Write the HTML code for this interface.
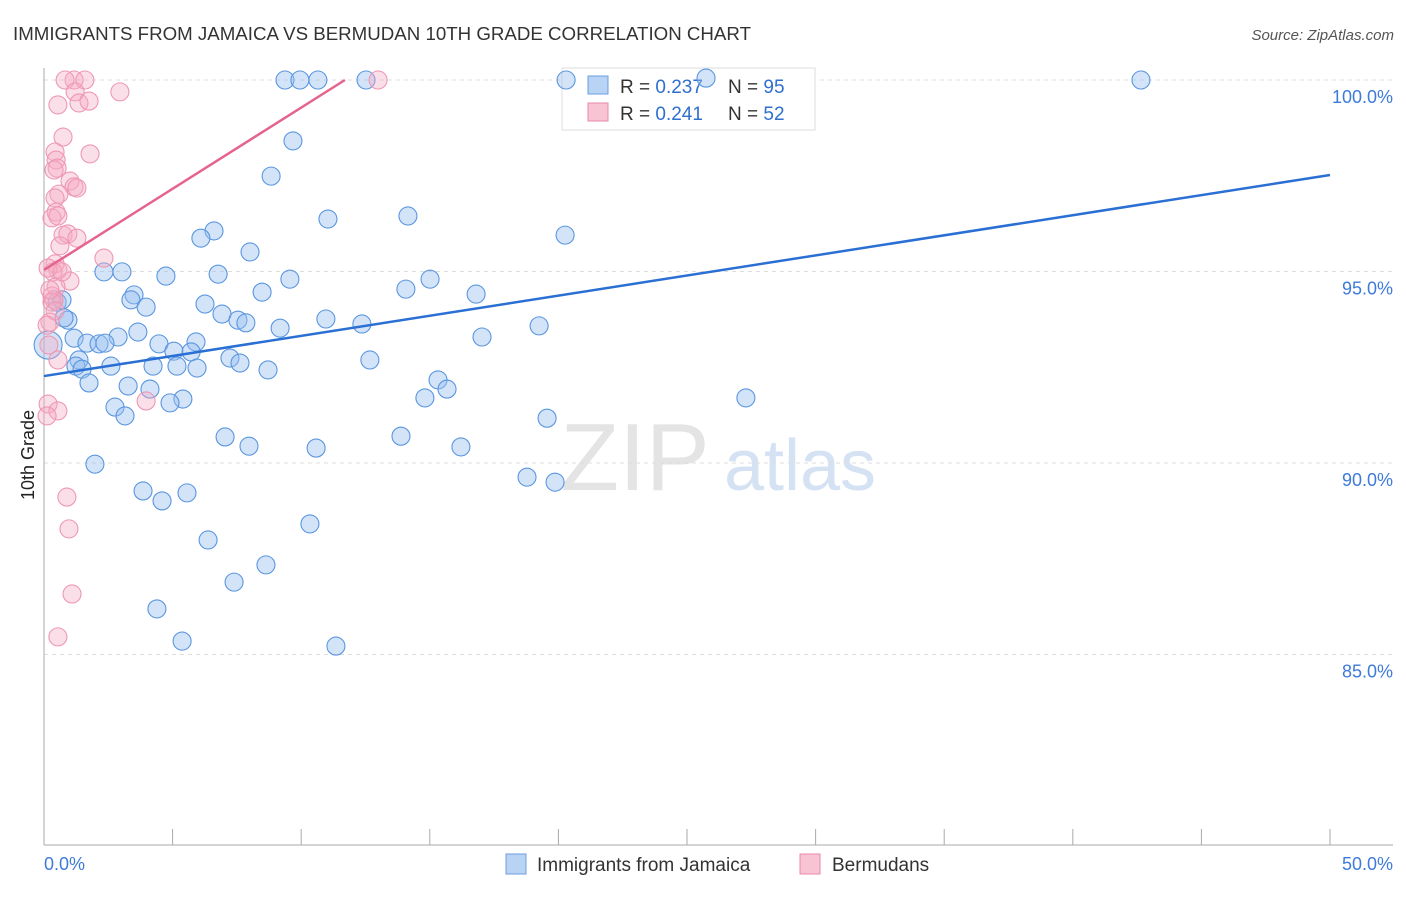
<!DOCTYPE html>
<html><head><meta charset="utf-8"><style>
body{margin:0;background:#fff;font-family:"Liberation Sans",sans-serif;}
svg text{font-family:"Liberation Sans",sans-serif;}
</style></head><body>
<svg id="chart" width="1406" height="892" xmlns="http://www.w3.org/2000/svg">
<text x="13" y="40" font-size="18" fill="#333" textLength="738" lengthAdjust="spacingAndGlyphs">IMMIGRANTS FROM JAMAICA VS BERMUDAN 10TH GRADE CORRELATION CHART</text>
<text x="1394" y="40" font-size="15" fill="#555" font-style="italic" text-anchor="end">Source: ZipAtlas.com</text>
<text x="635" y="490" font-size="96" fill="#e4e4e4" font-family="Liberation Serif" text-anchor="middle">ZIP</text>
<text x="800" y="490" font-size="72" fill="#d5e2f3" text-anchor="middle">atlas</text>
<text transform="translate(34,455) rotate(-90)" font-size="18" fill="#222" text-anchor="middle">10th Grade</text>
<g id="grid"></g><g id="ticks"></g>
<g>
<rect x="562" y="68" width="253" height="62" fill="#fff" stroke="#ddd"/>
<rect x="588" y="76" width="20" height="18" fill="#b9d3f4" stroke="#6a9ee0"/>
<text x="620" y="93" font-size="19" fill="#333">R = <tspan fill="#2f6fcf">0.237</tspan></text>
<text x="728" y="93" font-size="19" fill="#333">N = <tspan fill="#2f6fcf">95</tspan></text>
<rect x="588" y="103" width="20" height="18" fill="#f8c3d3" stroke="#e889a8"/>
<text x="620" y="120" font-size="19" fill="#333">R = <tspan fill="#2f6fcf">0.241</tspan></text>
<text x="728" y="120" font-size="19" fill="#333">N = <tspan fill="#2f6fcf">52</tspan></text>
</g>
<g id="pts"></g><g id="lines"></g>
<g>
<rect x="506" y="854" width="20" height="20" fill="#b9d3f4" stroke="#6a9ee0"/>
<text x="537" y="871" font-size="19" fill="#333">Immigrants from Jamaica</text>
<rect x="800" y="854" width="20" height="20" fill="#f8c3d3" stroke="#e889a8"/>
<text x="832" y="871" font-size="19" fill="#333">Bermudans</text>
</g>
</svg>
<script>
const xTicks=[0,5,10,15,20,25,30,35,40,45,50];
const yTicks=[85,90,95,100];
const yTickLabels=["85.0%","90.0%","95.0%","100.0%"];
const blueX=[9.37,9.95,10.65,12.52,20.3,25.74,42.65,9.68,8.83,11.04,14.15,20.26,6.61,6.10,8.01,2.33,3.03,4.74,6.77,9.56,15.01,14.07,8.48,16.80,3.50,3.38,3.97,6.26,0.51,0.70,6.92,7.54,7.85,10.96,12.36,19.25,0.93,0.78,9.18,3.65,2.88,1.17,17.03,5.91,4.47,1.67,2.14,2.37,5.05,5.72,1.36,4.24,5.17,5.95,7.23,7.62,12.67,8.71,1.24,2.60,1.48,1.75,3.27,4.12,15.32,15.67,5.40,14.81,4.90,2.76,27.29,3.15,19.56,7.04,7.97,10.58,13.88,16.21,1.98,18.78,19.87,3.85,5.56,4.59,10.34,6.38,8.63,7.39,4.39,5.37,11.35,0.16];
const blueY=[100,100,100,100,100,100.05,100,98.41,97.49,96.37,96.45,95.95,96.06,95.87,95.51,94.99,94.99,94.88,94.93,94.80,94.80,94.54,94.46,94.41,94.39,94.26,94.07,94.15,94.20,94.26,93.89,93.73,93.66,93.76,93.63,93.58,93.73,93.79,93.52,93.42,93.29,93.26,93.29,93.16,93.11,93.13,93.11,93.13,92.92,92.90,92.69,92.53,92.53,92.48,92.74,92.61,92.69,92.43,92.53,92.53,92.45,92.09,92.01,91.93,92.17,91.93,91.67,91.70,91.57,91.46,91.70,91.23,91.17,90.68,90.44,90.39,90.70,90.42,89.97,89.63,89.50,89.27,89.22,89.01,88.41,87.99,87.34,86.89,86.19,85.35,85.22,93.08];
const pinkX=[1.17,1.59,0.82,2.95,1.21,0.54,1.36,1.75,0.74,1.79,0.43,0.47,0.51,0.39,1.01,1.17,0.58,0.43,1.28,0.47,0.31,0.54,0.74,0.93,1.28,0.62,2.33,0.43,0.54,0.35,1.01,0.47,0.31,0.39,0.31,0.43,0.23,0.19,0.54,3.97,0.16,0.54,0.12,0.89,0.97,1.09,0.54,12.99,0.16,0.12,0.23,0.70];
const pinkY=[100,100,100,99.69,99.69,99.35,99.40,99.45,98.51,98.07,98.12,97.91,97.70,97.65,97.36,97.21,97.02,96.92,97.18,96.55,96.40,96.45,95.95,95.98,95.87,95.67,95.35,95.20,95.04,94.99,94.75,94.60,94.36,94.26,94.20,93.97,93.68,93.08,92.69,91.62,91.54,91.36,91.23,89.11,88.28,86.58,85.46,100,95.09,93.60,94.52,94.99];
const blueTrend=[[0,92.27],[50,97.52]];
const pinkTrend=[[0,95.04],[11.7,100]];
const NS="http://www.w3.org/2000/svg";
const X=v=>44+v*25.72, Y=v=>80+(100-v)*38.3;
function mk(tag,attrs,parent){const e=document.createElementNS(NS,tag);for(const k in attrs)e.setAttribute(k,attrs[k]);parent.appendChild(e);return e;}
const grid=document.getElementById('grid'),ticks=document.getElementById('ticks'),pts=document.getElementById('pts'),lines=document.getElementById('lines');
yTicks.forEach((t,i)=>{
 const l=mk('line',{x1:44,x2:1393,y1:Y(t),y2:Y(t),stroke:'#ddd','stroke-dasharray':'4,4'},grid);
 
 
 const tx=mk('text',{x:1393,y:Y(t)+23,'font-size':18,fill:'#3d7bd9','text-anchor':'end'},ticks);
 tx.textContent=yTickLabels[i];
 
 
});
const ax=mk('line',{x1:44,x2:44,y1:68,y2:845,stroke:'#aaa'},ticks);


const bx=mk('line',{x1:44,x2:1393,y1:845,y2:845,stroke:'#aaa'},ticks);


xTicks.forEach(t=>{
 const l=mk('line',{x1:X(t),x2:X(t),y1:829,y2:845,stroke:'#aaa'},ticks);
 
 
});
[[0,'0.0%','start',44],[50,'50.0%','end',1393]].forEach(a=>{
 const tx=mk('text',{x:a[3],y:870,'font-size':18,fill:'#3d7bd9','text-anchor':a[2]},ticks);
 tx.textContent=a[1];
 
 
});
blueX.forEach((v,i)=>{
 const r=(i===blueX.length-1)?14:9;
 const c=mk('circle',{cx:X(v),cy:Y(blueY[i]),r:r,fill:'rgba(150,190,240,0.42)',stroke:'#5a96df','stroke-width':1.1},pts);
 
 
});
pinkX.forEach((v,i)=>{
 const c=mk('circle',{cx:X(v),cy:Y(pinkY[i]),r:9,fill:'rgba(245,170,195,0.38)',stroke:'#ee97b4','stroke-width':1.1},pts);
 
 
});
const bl=mk('line',{x1:X(blueTrend[0][0]),y1:Y(blueTrend[0][1]),x2:X(blueTrend[1][0]),y2:Y(blueTrend[1][1]),stroke:'#2a6fd3','stroke-width':2.5},lines);


const pl=mk('line',{x1:X(pinkTrend[0][0]),y1:Y(pinkTrend[0][1]),x2:X(pinkTrend[1][0]),y2:Y(pinkTrend[1][1]),stroke:'#e5648e','stroke-width':2.5},lines);


</script>
</body></html>
